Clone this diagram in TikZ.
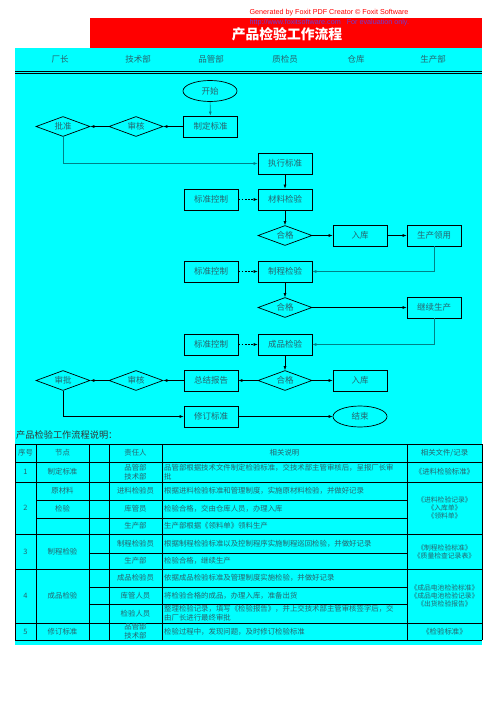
\documentclass[tikz,border=0pt]{standalone}
\usepackage{fontspec}
\setmainfont{Noto Sans CJK SC}
\newfontfamily\foxitfont{Liberation Sans}
\usetikzlibrary{shapes.geometric,arrows.meta}
\definecolor{bgcyan}{RGB}{0,255,255}
\definecolor{titlered}{RGB}{255,0,0}
\definecolor{txtteal}{RGB}{40,100,110}
\definecolor{linkteal}{RGB}{0,130,135}
\definecolor{foxitblue}{RGB}{110,60,210}
\begin{document}
\begin{tikzpicture}[x=1pt,y=-1pt,
    every node/.style={text=txtteal,font=\fontsize{8.5}{10}\selectfont},
    box/.style={draw,line width=0.8pt,minimum width=54pt,minimum height=21pt,inner sep=0pt},
    gate/.style={draw,diamond,aspect=2.7,line width=0.7pt,minimum width=54pt,minimum height=20pt,inner sep=0pt},
    oval/.style={draw,ellipse,line width=0.7pt,minimum width=54pt,minimum height=21pt,inner sep=0pt},
    link/.style={line width=0.6pt,-{Latex[length=4pt,width=3pt]}},
    ctrl/.style={link,dash pattern=on 1.8pt off 1.4pt},
    cell/.style={font=\fontsize{7.4}{9}\selectfont,align=center,inner sep=0pt},
    memo/.style={cell,anchor=west,align=left}]
    \useasboundingbox (0,0) rectangle (496,701);
    \fill[white] (0,0) rectangle (496,701);
    % background and title
    \fill[bgcyan] (15,48) rectangle (482,645);
    \fill[titlered] (90,18) rectangle (482,48);
    \node[text=red,font=\foxitfont\fontsize{7.2}{8}\selectfont,anchor=west] (foxit1) at (246,13) {Generated by Foxit PDF Creator \textcopyright\ Foxit Software};
    \node[text=foxitblue,font=\foxitfont\fontsize{7.2}{8}\selectfont,anchor=west] (foxit2) at (246,23) {http://www.foxitsoftware.com\ \ \ For evaluation only.};
    \node[text=white,font=\fontsize{13.8}{15}\selectfont\bfseries] (title) at (287,34) {产品检验工作流程};
    % lanes
    \foreach \x/\t/\n in {60/厂长/l1,138/技术部/l2,211/品管部/l3,285/质检员/l4,356/仓库/l5,433/生产部/l6}
        \node (\n) at (\x,59) {\t};
    \draw[line width=0.6pt] (15,71) -- (482,71);
    \draw[line width=0.6pt] (15,73.5) -- (482,73.5);
    % flow
    \node[oval] (start) at (210,91) {开始};
    \node[box] (draft) at (210.5,126.5) {制定标准};
    \node[gate] (check1) at (136,126.5) {审核};
    \node[gate] (approve) at (63,126.5) {批准};
    \node[box] (execute) at (285,163.5) {执行标准};
    \node[box] (matchk) at (285,199.5) {材料检验};
    \node[box] (ctrl1) at (211,199.5) {标准控制};
    \node[gate] (pass1) at (285,235.5) {合格};
    \node[box] (store1) at (360,235.5) {入库};
    \node[box] (use) at (434,235.5) {生产领用};
    \node[box] (procchk) at (285,271.5) {制程检验};
    \node[box] (ctrl2) at (211,271.5) {标准控制};
    \node[gate] (pass2) at (285,307.5) {合格};
    \node[box] (goon) at (434,307.5) {继续生产};
    \node[box] (prodchk) at (285,344.5) {成品检验};
    \node[box] (ctrl3) at (211,344.5) {标准控制};
    \node[gate] (pass3) at (285,380.5) {合格};
    \node[box] (store2) at (360,380.5) {入库};
    \node[box] (report) at (211,380.5) {总结报告};
    \node[gate] (check2) at (136,380.5) {审核};
    \node[gate] (sign) at (63,380.5) {审批};
    \node[box] (revise) at (211,416.5) {修订标准};
    \node[oval] (stop) at (360,416.5) {结束};
    \draw[link,linkteal] (start) -- (draft);
    \draw[link] (draft) -- (check1);
    \draw[link] (check1) -- (approve);
    \draw[link,linkteal] (approve.south) |- (execute.west);
    \draw[link] (execute) -- (matchk);
    \draw[ctrl] (ctrl1) -- (matchk);
    \draw[link] (matchk) -- (pass1);
    \draw[link] (pass1) -- (store1);
    \draw[link] (store1) -- (use);
    \draw[link,linkteal] (use.south) |- (procchk.east);
    \draw[ctrl] (ctrl2) -- (procchk);
    \draw[link] (procchk) -- (pass2);
    \draw[link] (pass2) -- (goon);
    \draw[link,linkteal] (goon.south) |- (prodchk.east);
    \draw[ctrl] (ctrl3) -- (prodchk);
    \draw[link] (prodchk) -- (pass3);
    \draw[link] (pass3) -- (store2);
    \draw[link] (pass3) -- (report);
    \draw[link] (report) -- (check2);
    \draw[link] (check2) -- (sign);
    \draw[link] (sign.south) |- (revise.west);
    \draw[link] (revise) -- (stop);
    % table
    \node[text=black!80,font=\fontsize{9.2}{10}\selectfont,anchor=west,inner sep=0pt] (caption) at (16,435) {产品检验工作流程说明：};
    \begin{scope}[line width=0.9pt]
    \foreach \y in {444,462,482,534,569,623,640}
        \draw (15,\y) -- (482,\y);
    \foreach \y in {500,518}
        \draw (36,\y) -- (407,\y);
    \foreach \y in {553,587,604}
        \draw (89,\y) -- (407,\y);
    \foreach \x in {15,36,89,109,162,407,482}
        \draw (\x,444) -- (\x,640);
    \end{scope}
    \node[cell] (h1) at (25.5,453) {序号};
    \node[cell] (h2) at (62.5,453) {节点};
    \node[cell] (h3) at (135.5,453) {责任人};
    \node[cell] (h4) at (284.5,453) {相关说明};
    \node[cell] (h5) at (444.5,453) {相关文件/记录};
    % row 1
    \node[cell] (n1) at (25.5,472) {1};
    \node[cell] (s1) at (62.5,472) {制定标准};
    \node[cell] (p1) at (135.5,472) {品管部\\技术部};
    \node[memo] (d1) at (164,472) {品管部根据技术文件制定检验标准，交技术部主管审核后，呈报厂长审\\批};
    \node[cell] (f1) at (444.5,472) {《进料检验标准》};
    % row 2
    \node[cell] (n2) at (25.5,508) {2};
    \node[cell] (s2a) at (62.5,491) {原材料};
    \node[cell] (s2b) at (62.5,509) {检验};
    \node[cell] (p2a) at (135.5,491) {进料检验员};
    \node[cell] (p2b) at (135.5,509) {库管员};
    \node[cell] (p2c) at (135.5,526) {生产部};
    \node[memo] (d2a) at (164,491) {根据进料检验标准和管理制度，实施原材料检验，并做好记录};
    \node[memo] (d2b) at (164,509) {检验合格，交由仓库人员，办理入库};
    \node[memo] (d2c) at (164,526) {生产部根据《领料单》领料生产};
    \node[cell,font=\fontsize{6.8}{8}\selectfont] (f2) at (444.5,508) {《进料检验记录》\\《入库单》\\《领料单》};
    % row 3
    \node[cell] (n3) at (25.5,551.5) {3};
    \node[cell] (s3) at (62.5,551.5) {制程检验};
    \node[cell] (p3a) at (135.5,543.5) {制程检验员};
    \node[cell] (p3b) at (135.5,561) {生产部};
    \node[memo] (d3a) at (164,543.5) {根据制程检验标准以及控制程序实施制程巡回检验，并做好记录};
    \node[memo] (d3b) at (164,561) {检验合格，继续生产};
    \node[cell,font=\fontsize{6.8}{8}\selectfont] (f3) at (444.5,551.5) {《制程检验标准》\\《质量检查记录表》};
    % row 4
    \node[cell] (n4) at (25.5,596) {4};
    \node[cell] (s4) at (62.5,596) {成品检验};
    \node[cell] (p4a) at (135.5,578) {成品检验员};
    \node[cell] (p4b) at (135.5,595.5) {库管人员};
    \node[cell] (p4c) at (135.5,613.5) {检验人员};
    \node[memo] (d4a) at (164,578) {依据成品检验标准及管理制度实施检验，并做好记录};
    \node[memo] (d4b) at (164,595.5) {将检验合格的成品，办理入库，准备出货};
    \node[memo] (d4c) at (164,613.5) {整理检验记录，填写《检验报告》，并上交技术部主管审核签字后，交\\由厂长进行最终审批};
    \node[cell,font=\fontsize{6.8}{8}\selectfont] (f4) at (444.5,596) {《成品电池检验标准》\\《成品电池检验记录》\\《出货检验报告》};
    % row 5
    \node[cell] (n5) at (25.5,631.5) {5};
    \node[cell] (s5) at (62.5,631.5) {修订标准};
    \node[cell] (p5) at (135.5,631.5) {品管部\\技术部};
    \node[memo] (d5) at (164,631.5) {检验过程中，发现问题，及时修订检验标准};
    \node[cell] (f5) at (444.5,631.5) {《检验标准》};
\end{tikzpicture}
\end{document}
